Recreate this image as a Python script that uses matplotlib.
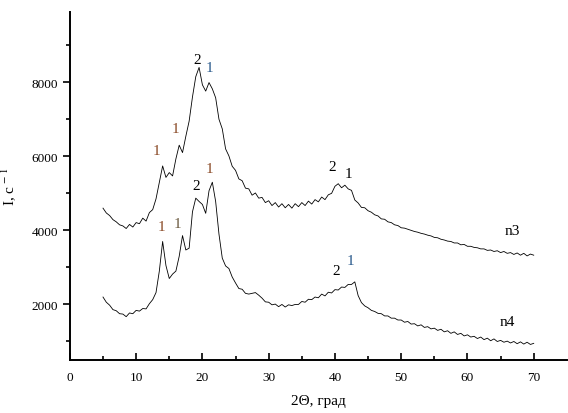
import numpy as np
import matplotlib
matplotlib.use("Agg")
import matplotlib.pyplot as plt

# diffraction angle grid, 5..70 deg step 0.5
two_theta = np.arange(5.0, 70.01, 0.5)

# intensity, one row = 5 degrees
n3 = [
    4600, 4470, 4400, 4290, 4230, 4150, 4120, 4050, 4160, 4090,   # 5.0
    4210, 4180, 4330, 4250, 4480, 4560, 4850, 5300, 5740, 5430,   # 10.0
    5560, 5470, 5930, 6300, 6100, 6540, 6950, 7600, 8150, 8400,   # 15.0
    7930, 7760, 7990, 7820, 7580, 7000, 6740, 6200, 6010, 5730,   # 20.0
    5620, 5390, 5340, 5140, 5120, 4950, 5010, 4870, 4890, 4750,   # 25.0
    4800, 4670, 4750, 4630, 4720, 4610, 4700, 4600, 4720, 4640,   # 30.0
    4750, 4670, 4790, 4710, 4830, 4770, 4900, 4830, 4960, 5000,   # 35.0
    5190, 5260, 5150, 5220, 5120, 5080, 4820, 4740, 4620, 4610,   # 40.0
    4530, 4490, 4420, 4390, 4310, 4300, 4230, 4210, 4150, 4130,   # 45.0
    4070, 4060, 4030, 4000, 3970, 3950, 3920, 3900, 3870, 3850,   # 50.0
    3810, 3800, 3760, 3740, 3710, 3700, 3660, 3660, 3610, 3620,   # 55.0
    3570, 3570, 3540, 3530, 3500, 3500, 3460, 3470, 3430, 3450,   # 60.0
    3400, 3430, 3380, 3400, 3350, 3390, 3330, 3380, 3310, 3360,   # 65.0
    3330,                                                         # 70.0
]
n4 = [
    2200, 2060, 1980, 1860, 1830, 1750, 1740, 1670, 1770, 1750,   # 5.0
    1840, 1820, 1890, 1880, 2020, 2130, 2320, 2900, 3700, 3050,   # 10.0
    2700, 2820, 2900, 3300, 3860, 3470, 3520, 4500, 4870, 4780,   # 15.0
    4700, 4460, 5070, 5300, 4780, 3900, 3250, 3040, 2970, 2740,   # 20.0
    2580, 2430, 2410, 2300, 2280, 2300, 2320, 2250, 2170, 2070,   # 25.0
    2060, 1990, 2010, 1940, 2000, 1930, 1990, 1970, 2000, 2000,   # 30.0
    2080, 2060, 2140, 2130, 2200, 2180, 2280, 2230, 2330, 2310,   # 35.0
    2400, 2390, 2470, 2460, 2540, 2540, 2610, 2240, 2050, 1960,   # 40.0
    1910, 1840, 1810, 1760, 1750, 1690, 1690, 1630, 1630, 1580,   # 45.0
    1580, 1520, 1540, 1470, 1480, 1420, 1450, 1380, 1400, 1340,   # 50.0
    1360, 1300, 1330, 1260, 1290, 1220, 1260, 1190, 1220, 1150,   # 55.0
    1180, 1120, 1140, 1080, 1120, 1050, 1090, 1020, 1070, 1000,   # 60.0
    1030, 980, 1010, 960, 1000, 940, 990, 930, 980, 920,          # 65.0
    950,                                                          # 70.0
]
assert len(n3) == len(two_theta) and len(n4) == len(two_theta)

# peak markers: (x, y, text, colour)
brown = "#8a4a26"
blue = "#2a5a8c"
marks = [
    (13.0, 6150, "1", brown), (15.9, 6740, "1", brown),
    (19.2, 8620, "2", "black"), (21.0, 8400, "1", blue),
    (39.6, 5720, "2", "black"), (42.0, 5530, "1", "black"),
    (13.9, 4100, "1", brown), (16.3, 4180, "1", "#6b5a40"),
    (19.0, 5200, "2", "black"), (21.1, 5660, "1", brown),
    (40.2, 2920, "2", "black"), (42.3, 3190, "1", blue),
]
curve_names = [(66.7, 4000, "n3"), (66.0, 1550, "n4")]

plt.rcParams["font.family"] = ["Liberation Serif", "DejaVu Serif"]
plt.rcParams["mathtext.fontset"] = "stix"

fig = plt.figure(figsize=(5.68, 4.14), dpi=100)
ax = fig.add_axes([0.123, 0.128, 0.875, 0.841])

ax.plot(two_theta, n3, color="black", lw=0.6)
ax.plot(two_theta, n4, color="black", lw=0.6)

for x, y, t, c in marks:
    ax.text(x, y, t, color=c, fontsize=11, ha="center", va="center")
for x, y, t in curve_names:
    ax.text(x, y, t, color="black", fontsize=11, ha="center", va="center")

ax.set_xlim(0, 75)
ax.set_ylim(500, 9900)
ax.set_xticks(range(0, 71, 10))
ax.set_xticks(range(5, 75, 10), minor=True)
ax.set_yticks([2000, 4000, 6000, 8000])
ax.set_yticks([1000, 3000, 5000, 7000, 9000], minor=True)

ax.spines["top"].set_visible(False)
ax.spines["right"].set_visible(False)
ax.spines["left"].set_linewidth(1.4)
ax.spines["bottom"].set_linewidth(1.4)
ax.tick_params(axis="x", which="both", direction="in", labelsize=9.5, width=1.2)
ax.tick_params(axis="y", which="both", direction="out", labelsize=9.5, width=1.2)
ax.tick_params(which="major", length=5)
ax.tick_params(which="minor", length=3)
ax.tick_params(axis="x", pad=8)

ax.set_xlabel("2Θ, град", fontsize=11, labelpad=8)
ax.set_ylabel("I, c$^{\\,-\\,1}$", fontsize=11, labelpad=10)

fig.savefig("out.png", dpi=100)
